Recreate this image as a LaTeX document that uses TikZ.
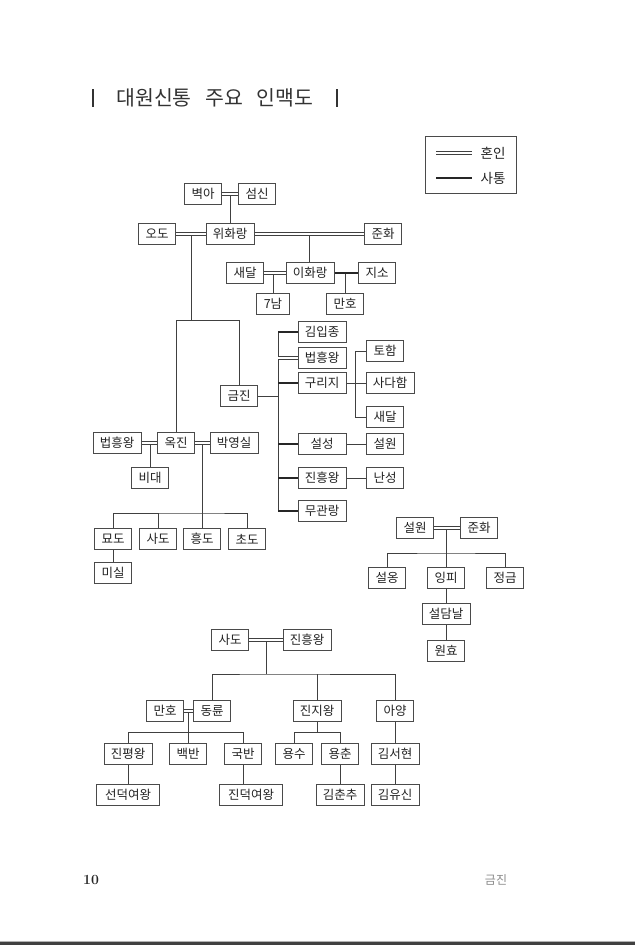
\documentclass[tikz,border=0pt]{standalone}
\usepackage{fontspec}
\newfontfamily\kr{Noto Sans CJK KR}
\usetikzlibrary{calc}
\definecolor{boxc}{HTML}{4A4A4A}
\definecolor{linec}{HTML}{404040}
\definecolor{txtc}{HTML}{222222}
\begin{document}
\begin{tikzpicture}[x=1pt,y=-1pt,
 box/.style={draw=boxc, line width=1pt, fill=white, minimum height=21pt, inner sep=0pt, font=\kr\fontsize{12.5}{14}\selectfont, text=txtc},
 b2/.style={box, minimum width=37pt},
 b3/.style={box, minimum width=48pt},
 b4/.style={box, minimum width=63pt},
 ln/.style={draw=linec, line width=0.8pt},
 hon/.style={draw=linec, line width=0.7pt, double=white, double distance=2.5pt},
 sat/.style={draw=black!85, line width=2pt},
 ttl/.style={font=\kr\fontsize{20.5}{24}\selectfont, text=black!80, inner sep=0pt},
]
\fill[white] (0,0) rectangle (635,945);
\useasboundingbox (0,0) rectangle (635,945);

% title
\coordinate (tb1a) at (93,89); \coordinate (tb1b) at (93,107);
\coordinate (tb2a) at (337,89); \coordinate (tb2b) at (337,107);
\draw[line width=1.2pt, black!80] (tb1a) -- (tb1b);
\draw[line width=1.2pt, black!80] (tb2a) -- (tb2b);
\node[ttl] (t1) at (154,98) {대원신통};
\node[ttl] (t2) at (224,98) {주요};
\node[ttl] (t3) at (285,98) {인맥도};

% legend
\node[draw=boxc, line width=1pt, minimum width=91pt, minimum height=57pt, inner sep=0pt] (legend) at (470.5,164.5) {};
\coordinate (lg1a) at (436,153); \coordinate (lg1b) at (472,153);
\coordinate (lg2a) at (436,178); \coordinate (lg2b) at (472,178);
\draw[hon] (lg1a) -- (lg1b);
\draw[sat] (lg2a) -- (lg2b);
\node[font=\kr\fontsize{13.5}{15}\selectfont, text=txtc] (lgt1) at (493,153) {혼인};
\node[font=\kr\fontsize{13.5}{15}\selectfont, text=txtc] (lgt2) at (493,178) {사통};

% top group nodes
\node[b2] (byeoka) at (203,194) {벽아};
\node[b2] (seomsin) at (257,194) {섬신};
\node[b2] (odo) at (157,234) {오도};
\node[b3] (wihwa) at (230,234) {위화랑};
\node[b2] (junhwa) at (383,234) {준화};
\node[b2] (saedal) at (245,273) {새달};
\node[b3] (ihwa) at (310,273) {이화랑};
\node[b2] (jiso) at (377,273) {지소};
\node[box, minimum width=33pt] (chilnam) at (273,304) {7남};
\node[b2] (manho) at (345,304) {만호};
\node[b3] (gimipjong) at (322,332) {김입종};
\node[b3] (beopA) at (322,358) {법흥왕};
\node[b3] (guriji) at (322,383) {구리지};
\node[b2] (toham) at (385,351) {토함};
\node[b3] (sadaham) at (390,383) {사다함};
\node[b2] (saedalB) at (385,417) {새달};
\node[b2] (geumjin) at (239,396) {금진};
\node[b3] (seolseong) at (322,444) {설성};
\node[b2] (seolwonA) at (385,444) {설원};
\node[b3] (jinheungA) at (322,478) {진흥왕};
\node[b2] (nanseong) at (385,478) {난성};
\node[b3] (mugwan) at (322,511) {무관랑};

% left group
\node[b3] (beopB) at (117,443) {법흥왕};
\node[b2] (okjin) at (176,443) {옥진};
\node[b3] (bak) at (234,443) {박영실};
\node[b2] (bidae) at (150,478) {비대};
\node[b2] (myodo) at (113,539) {묘도};
\node[b2] (sadoA) at (158,539) {사도};
\node[b2] (heungdo) at (202,539) {흥도};
\node[b2] (chodo) at (247,539) {초도};
\node[b2] (misil) at (113,573) {미실};

% right group
\node[b2] (seolwonB) at (415,528) {설원};
\node[b2] (junhwaB) at (479,528) {준화};
\node[b2] (seolong) at (387,578) {설옹};
\node[b2] (ingpi) at (446,578) {잉피};
\node[b2] (jeonggeum) at (505,578) {정금};
\node[b3] (seoldam) at (446,614) {설담날};
\node[b2] (wonhyo) at (446,651) {원효};

% bottom group
\node[b2] (sadoB) at (230,640) {사도};
\node[b3] (jinheungB) at (307,640) {진흥왕};
\node[b2] (manhoB) at (165,711) {만호};
\node[b2] (dongryun) at (212,711) {동륜};
\node[b3] (jinji) at (317,711) {진지왕};
\node[b2] (ayang) at (395,711) {아양};
\node[b3] (jinpyeong) at (128,754) {진평왕};
\node[b2] (baekban) at (188,754) {백반};
\node[b2] (gukban) at (243,754) {국반};
\node[b2] (yongsu) at (294,754) {용수};
\node[b2] (yongchun) at (340,754) {용춘};
\node[b3] (gimseohyeon) at (395,754) {김서현};
\node[b4] (seondeok) at (128,795) {선덕여왕};
\node[b4] (jindeok) at (251,795) {진덕여왕};
\node[b3] (gimchunchu) at (340,795) {김춘추};
\node[b3] (gimyusin) at (395,795) {김유신};

% ---- connectors: top
\coordinate (jBy) at (230,194);
\draw[ln] (jBy) -- (wihwa.north);
\draw[hon] (byeoka.east) -- (seomsin.west);
\coordinate (jOdo) at (191,234);
\coordinate (jWJ) at (309,234);
\coordinate (brL) at (176,320);
\coordinate (brR) at (239,320);
\draw[ln] (jWJ) -- (jWJ |- ihwa.north);
\draw[ln] (jOdo) -- (jOdo |- brL);
\draw[ln] (okjin.north) -- (brL) -- (brR) -- (geumjin.north);
\draw[hon] (odo.east) -- (wihwa.west);
\draw[hon] (wihwa.east) -- (junhwa.west);
\coordinate (jSI) at (273,273);
\draw[ln] (jSI) -- (chilnam.north);
\draw[hon] (saedal.east) -- (ihwa.west);
\coordinate (jIJ) at (345,273);
\draw[ln] (jIJ) -- (manho.north);
\draw[sat] (ihwa.east) -- (jiso.west);

% geumjin bracket
\coordinate (gbTop) at (278,332);
\coordinate (gbBot) at (278,511);
\draw[ln] (geumjin.east) -- (geumjin.east -| gbTop);
\draw[ln] (gbTop) -- (gbBot);
\draw[sat] (gbTop) -- (gimipjong.west);
\draw[hon] (beopA.west -| gbTop) -- (beopA.west);
\draw[sat] (guriji.west -| gbTop) -- (guriji.west);
\draw[sat] (seolseong.west -| gbTop) -- (seolseong.west);
\draw[sat] (jinheungA.west -| gbTop) -- (jinheungA.west);
\draw[sat] (gbBot) -- (mugwan.west);

% guriji bracket
\coordinate (gjTop) at (355,351);
\coordinate (gjBot) at (355,417);
\draw[ln] (toham.west) -- (gjTop) -- (gjBot) -- (saedalB.west);
\draw[ln] (guriji.east) -- (sadaham.west);
\draw[ln] (seolseong.east) -- (seolwonA.west);
\draw[ln] (jinheungA.east) -- (nanseong.west);

% left group
\coordinate (jBO) at (150,443);
\draw[ln] (jBO) -- (bidae.north);
\draw[hon] (beopB.east) -- (okjin.west);
\coordinate (jOB) at (202,443);
\coordinate (kbar) at (202,513);
\draw[ln] (jOB) -- (kbar);
\draw[ln] (myodo.north) |- (kbar) -| (chodo.north);
\draw[ln] (sadoA.north) -- (sadoA.north |- kbar);
\draw[ln] (kbar) -- (heungdo.north);
\draw[hon] (okjin.east) -- (bak.west);
\draw[ln] (myodo.south) -- (misil.north);

% right group
\coordinate (jSJ) at (446,528);
\coordinate (sbar) at (446,553);
\draw[ln] (jSJ) -- (ingpi.north);
\draw[ln] (seolong.north) |- (sbar) -| (jeonggeum.north);
\draw[hon] (seolwonB.east) -- (junhwaB.west);
\draw[ln] (ingpi.south) -- (seoldam.north);
\draw[ln] (seoldam.south) -- (wonhyo.north);

% bottom group
\coordinate (jSJ2) at (266,640);
\coordinate (bbar) at (266,674);
\draw[ln] (jSJ2) -- (bbar);
\draw[ln] (dongryun.north) |- (bbar) -| (ayang.north);
\draw[ln] (jinji.north) -- (jinji.north |- bbar);
\draw[hon] (sadoB.east) -- (jinheungB.west);
\coordinate (jMD) at (188,711);
\coordinate (dbar) at (188,732);
\draw[ln] (jMD) -- (baekban.north);
\draw[ln] (jinpyeong.north) |- (dbar) -| (gukban.north);
\draw[hon] (manhoB.east) -- (dongryun.west);
\draw[ln] (jinpyeong.south) -- (seondeok.north);
\draw[ln] (gukban.south) -- (gukban.south |- jindeok.north);
\coordinate (jjbar) at (317,732);
\draw[ln] (jinji.south) -- (jjbar);
\draw[ln] (yongsu.north) |- (jjbar) -| (yongchun.north);
\draw[ln] (yongchun.south) -- (gimchunchu.north);
\draw[ln] (ayang.south) -- (gimseohyeon.north);
\draw[ln] (gimseohyeon.south) -- (gimyusin.north);

% footer
\node[font=\bfseries\fontsize{14}{16}\selectfont, text=black!85, inner sep=0pt] (pageno) at (91,880) {10};
\node[font=\kr\fontsize{12}{14}\selectfont, text=black!45, inner sep=0pt] (runhead) at (496,880) {금진};
\coordinate (bandL) at (0,941.3);
\coordinate (bandR) at (635,941.3);
\draw[black!30, line width=0.6pt] (bandL) -- (bandR);
\fill[black!75] (0,942) rectangle (635,945);
\end{tikzpicture}
\end{document}
